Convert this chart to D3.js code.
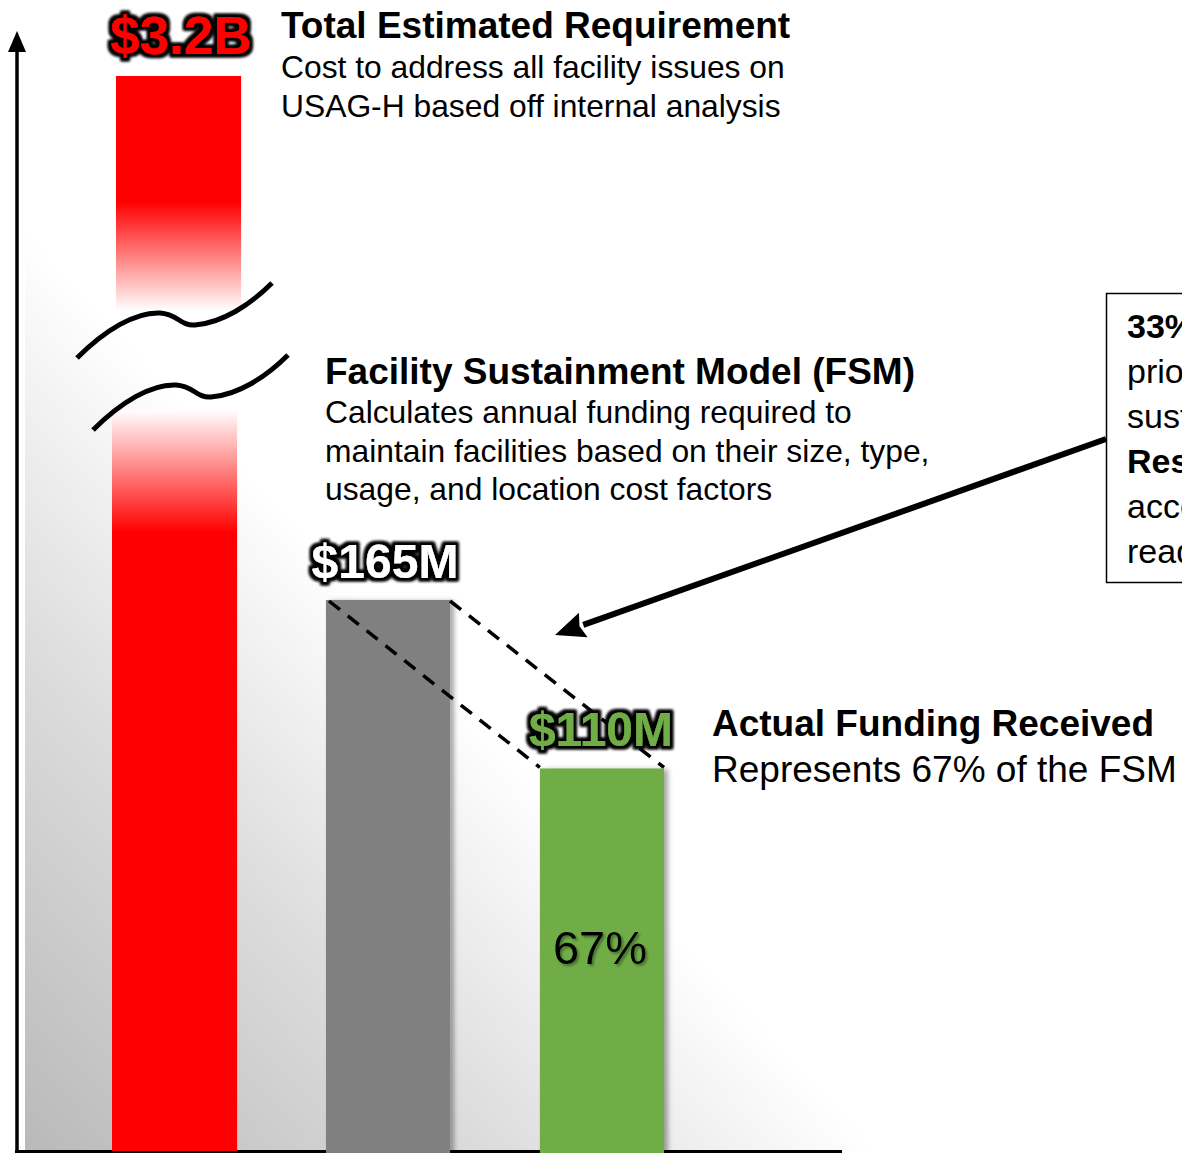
<!DOCTYPE html>
<html lang="en">
<head>
    <meta charset="UTF-8">
    <title>Facility Funding</title>
    <script src="https://d3js.org/d3.v7.min.js"></script>
    <style>
        body {
            margin: 0;
            background: #fff;
            font-family: "Liberation Sans", Arial, sans-serif;
        }
        svg { display: block; }
        .title { font-weight: bold; fill: #000; }
        .desc { fill: #000; }
    </style>
</head>
<body>
    <div id="chart"></div>

    <script>
        // data
        const categories = ["Total Estimated Requirement", "Facility Sustainment Model (FSM)", "Actual Funding Received"];
        const valuesM = [3200, 165, 110];          // millions of dollars
        const valueLabels = ["$3.2B", "$165M", "$110M"];
        const barColors = ["#ff0000", "#808080", "#70ad47"];
        const labelColors = ["#ff0000", "#ffffff", "#70ad47"];
        const shareOfFsm = "67%";

        const W = 1182, H = 1153;
        const base = 1151;

        const svg = d3.select('#chart').append('svg')
            .attr('width', W)
            .attr('height', H);

        const defs = svg.append('defs');

        // background: grey fading to white toward upper right
        const bg = defs.append('linearGradient')
            .attr('id', 'bgGrad')
            .attr('gradientUnits', 'userSpaceOnUse')
            .attr('x1', 25).attr('y1', base)
            .attr('x2', 484).attr('y2', 725);
        bg.append('stop').attr('offset', 0).attr('stop-color', '#b9b9b9');
        bg.append('stop').attr('offset', 0.55).attr('stop-color', '#dcdcdc');
        bg.append('stop').attr('offset', 1).attr('stop-color', '#ffffff');

        const redTop = defs.append('linearGradient')
            .attr('id', 'redTop').attr('x1', 0).attr('y1', 0).attr('x2', 0).attr('y2', 1);
        redTop.append('stop').attr('offset', 0).attr('stop-color', '#ff0000');
        redTop.append('stop').attr('offset', 0.52).attr('stop-color', '#ff0000');
        redTop.append('stop').attr('offset', 0.97).attr('stop-color', '#ffffff');

        const redBottom = defs.append('linearGradient')
            .attr('id', 'redBottom').attr('x1', 0).attr('y1', 0).attr('x2', 0).attr('y2', 1);
        redBottom.append('stop').attr('offset', 0).attr('stop-color', '#ffffff');
        redBottom.append('stop').attr('offset', 0.165).attr('stop-color', '#ff0000');
        redBottom.append('stop').attr('offset', 1).attr('stop-color', '#ff0000');

        // black halo for the value labels
        const glow = defs.append('filter').attr('id', 'glow')
            .attr('x', '-20%').attr('y', '-30%').attr('width', '140%').attr('height', '160%');
        glow.append('feMorphology').attr('in', 'SourceAlpha').attr('operator', 'dilate').attr('radius', 3).attr('result', 'thick');
        glow.append('feGaussianBlur').attr('in', 'thick').attr('stdDeviation', 1.8).attr('result', 'halo');
        const gm = glow.append('feMerge');
        gm.append('feMergeNode').attr('in', 'halo');
        gm.append('feMergeNode').attr('in', 'halo');
        gm.append('feMergeNode').attr('in', 'SourceGraphic');

        const shadow = defs.append('filter').attr('id', 'shadow')
            .attr('x', '-10%').attr('y', '-5%').attr('width', '130%').attr('height', '110%');
        shadow.append('feDropShadow').attr('dx', 4).attr('dy', 1).attr('stdDeviation', 2.5)
            .attr('flood-color', '#000').attr('flood-opacity', 0.35);

        const textShadow = defs.append('filter').attr('id', 'textShadow');
        textShadow.append('feDropShadow').attr('dx', 2).attr('dy', 2).attr('stdDeviation', 1)
            .attr('flood-color', '#2a4a1a').attr('flood-opacity', 0.6);

        // scales
        const x = d3.scaleBand()
            .domain(categories)
            .range([112, 664])
            .paddingInner(0.42)
            .paddingOuter(0);

        // not to scale in the original; a gentle power curve fits the drawn heights
        const y = d3.scalePow().exponent(0.9)
            .domain([0, 165])
            .range([base, 600]);

        // broken top section of the first bar
        const yUpper = d3.scaleLinear().domain([2900, 3200]).range([318, 76]);
        const breakLow = 410;

        // background
        svg.append('rect')
            .attr('x', 25).attr('y', 0)
            .attr('width', 900).attr('height', base)
            .attr('fill', 'url(#bgGrad)');

        // axes
        svg.append('line')
            .attr('x1', 15).attr('x2', 842)
            .attr('y1', base + 0.5).attr('y2', base + 0.5)
            .attr('stroke', '#000').attr('stroke-width', 3);
        svg.append('line')
            .attr('x1', 17).attr('x2', 17)
            .attr('y1', 48).attr('y2', H)
            .attr('stroke', '#000').attr('stroke-width', 3.5);
        svg.append('path')
            .attr('d', 'M17,31 L8,52 L26,52 Z')
            .attr('fill', '#000');

        // first bar, in two pieces around the break
        const c0 = categories[0];
        svg.append('rect')
            .attr('x', x(c0)).attr('y', breakLow)
            .attr('width', x.bandwidth() + 1).attr('height', base - breakLow)
            .attr('fill', 'url(#redBottom)');
        svg.append('rect')
            .attr('x', x(c0) + 4).attr('y', yUpper(valuesM[0]))
            .attr('width', x.bandwidth() + 1).attr('height', yUpper(2900) - yUpper(valuesM[0]))
            .attr('fill', 'url(#redTop)');

        // the other two bars
        const rest = categories.slice(1).map((c, i) => ({ cat: c, v: valuesM[i + 1], color: barColors[i + 1] }));
        svg.selectAll('.bar')
            .data(rest)
            .enter()
            .append('rect')
            .attr('class', 'bar')
            .attr('x', d => x(d.cat))
            .attr('y', d => y(d.v))
            .attr('width', x.bandwidth())
            .attr('height', d => base - y(d.v) + 2)
            .attr('fill', d => d.color)
            .attr('filter', 'url(#shadow)');

        // break marks
        const squiggle = 'M0,0 C28,-28 58,-46 83,-45 C101,-44 103,-32 118,-33 C145,-35 173,-53 195,-75';
        const bx = x(c0) - 35;
        [[bx, 358], [bx + 16, 430]].forEach(p => {
            svg.append('path')
                .attr('d', squiggle)
                .attr('transform', `translate(${p[0]},${p[1]})`)
                .attr('fill', 'none')
                .attr('stroke', '#000')
                .attr('stroke-width', 5);
        });

        // dashed connectors from FSM bar to actual funding bar
        const c1 = categories[1], c2 = categories[2];
        [[x(c1) + 3, x(c2)], [x(c1) + x.bandwidth(), x(c2) + x.bandwidth()]].forEach(p => {
            svg.append('line')
                .attr('x1', p[0]).attr('y1', y(valuesM[1]) + 1)
                .attr('x2', p[1]).attr('y2', y(valuesM[2]) - 1)
                .attr('stroke', '#000')
                .attr('stroke-width', 3.5)
                .attr('stroke-dasharray', '14,10');
        });

        // value labels
        const labelData = [
            { t: valueLabels[0], cx: x(c0) + 4 + x.bandwidth() / 2 + 3, top: yUpper(valuesM[0]), fill: labelColors[0], size: 53 },
            { t: valueLabels[1], cx: x(c1) + x.bandwidth() / 2 - 3, top: y(valuesM[1]), fill: labelColors[1], size: 48 },
            { t: valueLabels[2], cx: x(c2) + x.bandwidth() / 2 - 1, top: y(valuesM[2]), fill: labelColors[2], size: 48 }
        ];
        svg.selectAll('.vlabel')
            .data(labelData)
            .enter()
            .append('text')
            .attr('class', 'vlabel')
            .attr('x', d => d.cx)
            .attr('y', d => d.top - 22)
            .attr('text-anchor', 'middle')
            .attr('font-weight', 'bold')
            .attr('font-size', d => d.size)
            .attr('fill', d => d.fill)
            .attr('filter', 'url(#glow)')
            .text(d => d.t);

        svg.append('text')
            .attr('x', x(c2) + x.bandwidth() / 2 - 2)
            .attr('y', (y(valuesM[2]) + base) / 2 + 4)
            .attr('text-anchor', 'middle')
            .attr('font-size', 47)
            .attr('fill', '#000')
            .attr('filter', 'url(#textShadow)')
            .text(shareOfFsm);

        // description blocks
        function block(x0, lines) {
            lines.forEach(l => {
                svg.append('text')
                    .attr('class', l.bold ? 'title' : 'desc')
                    .attr('x', x0)
                    .attr('y', l.y)
                    .attr('font-size', l.size)
                    .text(l.t);
            });
        }
        block(281, [
            { t: 'Total Estimated Requirement', y: 38, size: 37, bold: true },
            { t: 'Cost to address all facility issues on', y: 78, size: 31.8 },
            { t: 'USAG-H based off internal analysis', y: 117, size: 31.8 }
        ]);
        block(325, [
            { t: 'Facility Sustainment Model (FSM)', y: 384, size: 37, bold: true },
            { t: 'Calculates annual funding required to', y: 423, size: 31.8 },
            { t: 'maintain facilities based on their size, type,', y: 462, size: 31.8 },
            { t: 'usage, and location cost factors', y: 500, size: 31.8 }
        ]);
        block(712, [
            { t: 'Actual Funding Received', y: 736, size: 37, bold: true },
            { t: 'Represents 67% of the FSM', y: 782, size: 37 }
        ]);

        // callout arrow
        const ax1 = 1106, ay1 = 439, ax2 = 555, ay2 = 635;
        const ang = Math.atan2(ay2 - ay1, ax2 - ax1);
        const headLen = 30, headW = 13;
        const bxh = ax2 - headLen * Math.cos(ang), byh = ay2 - headLen * Math.sin(ang);
        svg.append('line')
            .attr('x1', ax1).attr('y1', ay1)
            .attr('x2', bxh).attr('y2', byh)
            .attr('stroke', '#000').attr('stroke-width', 6);
        svg.append('path')
            .attr('d', d3.line()([
                [ax2, ay2],
                [bxh + headW * Math.sin(ang), byh - headW * Math.cos(ang)],
                [bxh + 4 * Math.cos(ang), byh + 4 * Math.sin(ang)],
                [bxh - headW * Math.sin(ang), byh + headW * Math.cos(ang)]
            ]) + 'Z')
            .attr('fill', '#000');

        // callout box (runs off the right edge, as in the source slide)
        svg.append('rect')
            .attr('x', 1106.5).attr('y', 293.5)
            .attr('width', 300).attr('height', 289)
            .attr('fill', '#fff')
            .attr('stroke', '#000').attr('stroke-width', 1.5);
        const callout = [
            { t: '33% shortfall', bold: true },
            { t: 'prioritizes critical' },
            { t: 'sustainment only' },
            { t: 'Result:', bold: true },
            { t: 'accelerated decline' },
            { t: 'readiness impacts' }
        ];
        svg.selectAll('.callout')
            .data(callout)
            .enter()
            .append('text')
            .attr('class', d => d.bold ? 'title' : 'desc')
            .attr('x', 1127)
            .attr('y', (d, i) => 338 + i * 45)
            .attr('font-size', 34)
            .text(d => d.t);
    </script>
</body>
</html>
